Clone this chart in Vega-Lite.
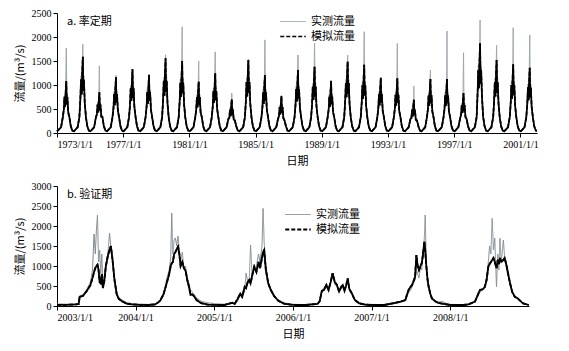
{
"$schema": "https://vega.github.io/schema/vega-lite/v6.json",
"background": "white",
"padding": {"left": 14, "top": 8, "right": 5, "bottom": 5},
"spacing": 15,
"config": {
 "view": {"stroke": null},
 "axis": {"grid": false, "domainColor": "black", "tickColor": "black", "labelFont": "Liberation Serif", "labelFontSize": 10, "labelColor": "black", "titleFont": "Noto Sans CJK SC", "titleFontSize": 11, "titleFontWeight": "normal", "titleColor": "black", "tickSize": 4},
 "legend": {"labelFont": "Noto Sans CJK SC", "labelFontSize": 11, "labelColor": "black", "symbolType": "stroke", "symbolStrokeWidth": 1.5, "symbolSize": 650, "clipHeight": 13, "rowPadding": 2, "labelOffset": 4},
 "title": {"font": "Noto Sans CJK SC", "fontSize": 11, "fontWeight": "normal", "color": "black"}
},
"datasets": {
"top": [
{"d":"1973-01-01","o":50,"s":35},{"d":"1973-04-01","o":150,"s":120},{"d":"1973-05-10","o":380,"s":330},{"d":"1973-06-01","o":540,"s":486},{"d":"1973-06-15","o":810,"s":756},{"d":"1973-07-01","o":594,"s":540},{"d":"1973-07-12","o":918,"s":864},{"d":"1973-07-25","o":1770,"s":1080},{"d":"1973-08-05","o":648,"s":594},{"d":"1973-08-18","o":810,"s":756},{"d":"1973-09-05","o":486,"s":432},{"d":"1973-10-01","o":380,"s":330},{"d":"1973-11-01","o":180,"s":140},{"d":"1973-12-05","o":70,"s":50},
{"d":"1974-01-10","o":50,"s":35},{"d":"1974-04-01","o":150,"s":120},{"d":"1974-05-10","o":380,"s":330},{"d":"1974-06-01","o":795,"s":716},{"d":"1974-06-15","o":1193,"s":1113},{"d":"1974-07-01","o":875,"s":795},{"d":"1974-07-12","o":1352,"s":1272},{"d":"1974-07-25","o":1850,"s":1590},{"d":"1974-08-05","o":954,"s":875},{"d":"1974-08-18","o":1193,"s":1113},{"d":"1974-09-05","o":716,"s":636},{"d":"1974-10-01","o":380,"s":330},{"d":"1974-11-01","o":180,"s":140},{"d":"1974-12-05","o":70,"s":50},
{"d":"1975-01-10","o":50,"s":35},{"d":"1975-04-01","o":150,"s":120},{"d":"1975-05-10","o":380,"s":330},{"d":"1975-06-01","o":425,"s":383},{"d":"1975-06-15","o":638,"s":595},{"d":"1975-07-01","o":468,"s":425},{"d":"1975-07-12","o":723,"s":680},{"d":"1975-07-25","o":1400,"s":850},{"d":"1975-08-05","o":510,"s":468},{"d":"1975-08-18","o":638,"s":595},{"d":"1975-09-05","o":383,"s":340},{"d":"1975-10-01","o":380,"s":330},{"d":"1975-11-01","o":180,"s":140},{"d":"1975-12-05","o":70,"s":50},
{"d":"1976-01-10","o":50,"s":35},{"d":"1976-04-01","o":150,"s":120},{"d":"1976-05-10","o":380,"s":330},{"d":"1976-06-01","o":580,"s":522},{"d":"1976-06-15","o":870,"s":812},{"d":"1976-07-01","o":638,"s":580},{"d":"1976-07-12","o":986,"s":928},{"d":"1976-07-25","o":1200,"s":1160},{"d":"1976-08-05","o":696,"s":638},{"d":"1976-08-18","o":870,"s":812},{"d":"1976-09-05","o":522,"s":464},{"d":"1976-10-01","o":380,"s":330},{"d":"1976-11-01","o":180,"s":140},{"d":"1976-12-05","o":70,"s":50},
{"d":"1977-01-10","o":50,"s":35},{"d":"1977-04-01","o":150,"s":120},{"d":"1977-05-10","o":380,"s":330},{"d":"1977-06-01","o":665,"s":599},{"d":"1977-06-15","o":998,"s":931},{"d":"1977-07-01","o":732,"s":665},{"d":"1977-07-12","o":1131,"s":1064},{"d":"1977-07-25","o":1300,"s":1330},{"d":"1977-08-05","o":798,"s":732},{"d":"1977-08-18","o":998,"s":931},{"d":"1977-09-05","o":599,"s":532},{"d":"1977-10-01","o":380,"s":330},{"d":"1977-11-01","o":180,"s":140},{"d":"1977-12-05","o":70,"s":50},
{"d":"1978-01-10","o":50,"s":35},{"d":"1978-04-01","o":150,"s":120},{"d":"1978-05-10","o":380,"s":330},{"d":"1978-06-01","o":605,"s":545},{"d":"1978-06-15","o":908,"s":847},{"d":"1978-07-01","o":666,"s":605},{"d":"1978-07-12","o":1029,"s":968},{"d":"1978-07-25","o":1230,"s":1210},{"d":"1978-08-05","o":726,"s":666},{"d":"1978-08-18","o":908,"s":847},{"d":"1978-09-05","o":545,"s":484},{"d":"1978-10-01","o":380,"s":330},{"d":"1978-11-01","o":180,"s":140},{"d":"1978-12-05","o":70,"s":50},
{"d":"1979-01-10","o":50,"s":35},{"d":"1979-04-01","o":150,"s":120},{"d":"1979-05-10","o":380,"s":330},{"d":"1979-06-01","o":778,"s":700},{"d":"1979-06-15","o":1166,"s":1089},{"d":"1979-07-01","o":855,"s":778},{"d":"1979-07-12","o":1322,"s":1244},{"d":"1979-07-25","o":1630,"s":1555},{"d":"1979-08-05","o":933,"s":855},{"d":"1979-08-18","o":1166,"s":1089},{"d":"1979-09-05","o":700,"s":622},{"d":"1979-10-01","o":380,"s":330},{"d":"1979-11-01","o":180,"s":140},{"d":"1979-12-05","o":70,"s":50},
{"d":"1980-01-10","o":50,"s":35},{"d":"1980-04-01","o":150,"s":120},{"d":"1980-05-10","o":380,"s":330},{"d":"1980-06-01","o":750,"s":675},{"d":"1980-06-15","o":1125,"s":1050},{"d":"1980-07-01","o":825,"s":750},{"d":"1980-07-12","o":1275,"s":1200},{"d":"1980-07-25","o":2210,"s":1500},{"d":"1980-08-05","o":900,"s":825},{"d":"1980-08-18","o":1125,"s":1050},{"d":"1980-09-05","o":675,"s":600},{"d":"1980-10-01","o":380,"s":330},{"d":"1980-11-01","o":180,"s":140},{"d":"1980-12-05","o":70,"s":50},
{"d":"1981-01-10","o":50,"s":35},{"d":"1981-04-01","o":150,"s":120},{"d":"1981-05-10","o":380,"s":330},{"d":"1981-06-01","o":535,"s":482},{"d":"1981-06-15","o":803,"s":749},{"d":"1981-07-01","o":589,"s":535},{"d":"1981-07-12","o":910,"s":856},{"d":"1981-07-25","o":1500,"s":1070},{"d":"1981-08-05","o":642,"s":589},{"d":"1981-08-18","o":803,"s":749},{"d":"1981-09-05","o":482,"s":428},{"d":"1981-10-01","o":380,"s":330},{"d":"1981-11-01","o":180,"s":140},{"d":"1981-12-05","o":70,"s":50},
{"d":"1982-01-10","o":50,"s":35},{"d":"1982-04-01","o":150,"s":120},{"d":"1982-05-10","o":380,"s":330},{"d":"1982-06-01","o":623,"s":560},{"d":"1982-06-15","o":934,"s":872},{"d":"1982-07-01","o":685,"s":623},{"d":"1982-07-12","o":1058,"s":996},{"d":"1982-07-25","o":1690,"s":1245},{"d":"1982-08-05","o":747,"s":685},{"d":"1982-08-18","o":934,"s":872},{"d":"1982-09-05","o":560,"s":498},{"d":"1982-10-01","o":380,"s":330},{"d":"1982-11-01","o":180,"s":140},{"d":"1982-12-05","o":70,"s":50},
{"d":"1983-01-10","o":50,"s":35},{"d":"1983-04-01","o":150,"s":120},{"d":"1983-05-10","o":330,"s":290},{"d":"1983-06-01","o":350,"s":315},{"d":"1983-06-15","o":525,"s":490},{"d":"1983-07-01","o":385,"s":350},{"d":"1983-07-12","o":595,"s":560},{"d":"1983-07-25","o":830,"s":700},{"d":"1983-08-05","o":420,"s":385},{"d":"1983-08-18","o":525,"s":490},{"d":"1983-09-05","o":315,"s":280},{"d":"1983-10-01","o":300,"s":260},{"d":"1983-11-01","o":180,"s":140},{"d":"1983-12-05","o":70,"s":50},
{"d":"1984-01-10","o":50,"s":35},{"d":"1984-04-01","o":150,"s":120},{"d":"1984-05-10","o":380,"s":330},{"d":"1984-06-01","o":760,"s":684},{"d":"1984-06-15","o":1140,"s":1064},{"d":"1984-07-01","o":836,"s":760},{"d":"1984-07-12","o":1292,"s":1216},{"d":"1984-07-25","o":1540,"s":1520},{"d":"1984-08-05","o":912,"s":836},{"d":"1984-08-18","o":1140,"s":1064},{"d":"1984-09-05","o":684,"s":608},{"d":"1984-10-01","o":380,"s":330},{"d":"1984-11-01","o":180,"s":140},{"d":"1984-12-05","o":70,"s":50},
{"d":"1985-01-10","o":50,"s":35},{"d":"1985-04-01","o":150,"s":120},{"d":"1985-05-10","o":380,"s":330},{"d":"1985-06-01","o":605,"s":545},{"d":"1985-06-15","o":908,"s":847},{"d":"1985-07-01","o":666,"s":605},{"d":"1985-07-12","o":1029,"s":968},{"d":"1985-07-25","o":1940,"s":1210},{"d":"1985-08-05","o":726,"s":666},{"d":"1985-08-18","o":908,"s":847},{"d":"1985-09-05","o":545,"s":484},{"d":"1985-10-01","o":380,"s":330},{"d":"1985-11-01","o":180,"s":140},{"d":"1985-12-05","o":70,"s":50},
{"d":"1986-01-10","o":50,"s":35},{"d":"1986-04-01","o":150,"s":120},{"d":"1986-05-10","o":330,"s":290},{"d":"1986-06-01","o":385,"s":347},{"d":"1986-06-15","o":578,"s":539},{"d":"1986-07-01","o":424,"s":385},{"d":"1986-07-12","o":655,"s":616},{"d":"1986-07-25","o":790,"s":770},{"d":"1986-08-05","o":462,"s":424},{"d":"1986-08-18","o":578,"s":539},{"d":"1986-09-05","o":347,"s":308},{"d":"1986-10-01","o":300,"s":260},{"d":"1986-11-01","o":180,"s":140},{"d":"1986-12-05","o":70,"s":50},
{"d":"1987-01-10","o":50,"s":35},{"d":"1987-04-01","o":150,"s":120},{"d":"1987-05-10","o":380,"s":330},{"d":"1987-06-01","o":655,"s":590},{"d":"1987-06-15","o":983,"s":917},{"d":"1987-07-01","o":721,"s":655},{"d":"1987-07-12","o":1114,"s":1048},{"d":"1987-07-25","o":1625,"s":1310},{"d":"1987-08-05","o":786,"s":721},{"d":"1987-08-18","o":983,"s":917},{"d":"1987-09-05","o":590,"s":524},{"d":"1987-10-01","o":380,"s":330},{"d":"1987-11-01","o":180,"s":140},{"d":"1987-12-05","o":70,"s":50},
{"d":"1988-01-10","o":50,"s":35},{"d":"1988-04-01","o":150,"s":120},{"d":"1988-05-10","o":380,"s":330},{"d":"1988-06-01","o":690,"s":621},{"d":"1988-06-15","o":1035,"s":966},{"d":"1988-07-01","o":759,"s":690},{"d":"1988-07-12","o":1173,"s":1104},{"d":"1988-07-25","o":1870,"s":1380},{"d":"1988-08-05","o":828,"s":759},{"d":"1988-08-18","o":1035,"s":966},{"d":"1988-09-05","o":621,"s":552},{"d":"1988-10-01","o":380,"s":330},{"d":"1988-11-01","o":180,"s":140},{"d":"1988-12-05","o":70,"s":50},
{"d":"1989-01-10","o":50,"s":35},{"d":"1989-04-01","o":150,"s":120},{"d":"1989-05-10","o":380,"s":330},{"d":"1989-06-01","o":543,"s":488},{"d":"1989-06-15","o":814,"s":760},{"d":"1989-07-01","o":597,"s":543},{"d":"1989-07-12","o":922,"s":868},{"d":"1989-07-25","o":1100,"s":1085},{"d":"1989-08-05","o":651,"s":597},{"d":"1989-08-18","o":814,"s":760},{"d":"1989-09-05","o":488,"s":434},{"d":"1989-10-01","o":380,"s":330},{"d":"1989-11-01","o":180,"s":140},{"d":"1989-12-05","o":70,"s":50},
{"d":"1990-01-10","o":50,"s":35},{"d":"1990-04-01","o":150,"s":120},{"d":"1990-05-10","o":380,"s":330},{"d":"1990-06-01","o":745,"s":671},{"d":"1990-06-15","o":1118,"s":1043},{"d":"1990-07-01","o":820,"s":745},{"d":"1990-07-12","o":1267,"s":1192},{"d":"1990-07-25","o":1625,"s":1490},{"d":"1990-08-05","o":894,"s":820},{"d":"1990-08-18","o":1118,"s":1043},{"d":"1990-09-05","o":671,"s":596},{"d":"1990-10-01","o":380,"s":330},{"d":"1990-11-01","o":180,"s":140},{"d":"1990-12-05","o":70,"s":50},
{"d":"1991-01-10","o":50,"s":35},{"d":"1991-04-01","o":150,"s":120},{"d":"1991-05-10","o":380,"s":330},{"d":"1991-06-01","o":710,"s":639},{"d":"1991-06-15","o":1065,"s":994},{"d":"1991-07-01","o":781,"s":710},{"d":"1991-07-12","o":1207,"s":1136},{"d":"1991-07-25","o":2110,"s":1420},{"d":"1991-08-05","o":852,"s":781},{"d":"1991-08-18","o":1065,"s":994},{"d":"1991-09-05","o":639,"s":568},{"d":"1991-10-01","o":380,"s":330},{"d":"1991-11-01","o":180,"s":140},{"d":"1991-12-05","o":70,"s":50},
{"d":"1992-01-10","o":50,"s":35},{"d":"1992-04-01","o":150,"s":120},{"d":"1992-05-10","o":380,"s":330},{"d":"1992-06-01","o":575,"s":518},{"d":"1992-06-15","o":863,"s":805},{"d":"1992-07-01","o":633,"s":575},{"d":"1992-07-12","o":978,"s":920},{"d":"1992-07-25","o":1160,"s":1150},{"d":"1992-08-05","o":690,"s":633},{"d":"1992-08-18","o":863,"s":805},{"d":"1992-09-05","o":518,"s":460},{"d":"1992-10-01","o":380,"s":330},{"d":"1992-11-01","o":180,"s":140},{"d":"1992-12-05","o":70,"s":50},
{"d":"1993-01-10","o":50,"s":35},{"d":"1993-04-01","o":150,"s":120},{"d":"1993-05-10","o":380,"s":330},{"d":"1993-06-01","o":570,"s":513},{"d":"1993-06-15","o":855,"s":798},{"d":"1993-07-01","o":627,"s":570},{"d":"1993-07-12","o":969,"s":912},{"d":"1993-07-25","o":1870,"s":1140},{"d":"1993-08-05","o":684,"s":627},{"d":"1993-08-18","o":855,"s":798},{"d":"1993-09-05","o":513,"s":456},{"d":"1993-10-01","o":380,"s":330},{"d":"1993-11-01","o":180,"s":140},{"d":"1993-12-05","o":70,"s":50},
{"d":"1994-01-10","o":50,"s":35},{"d":"1994-04-01","o":150,"s":120},{"d":"1994-05-10","o":330,"s":290},{"d":"1994-06-01","o":345,"s":311},{"d":"1994-06-15","o":518,"s":483},{"d":"1994-07-01","o":380,"s":345},{"d":"1994-07-12","o":587,"s":552},{"d":"1994-07-25","o":980,"s":690},{"d":"1994-08-05","o":414,"s":380},{"d":"1994-08-18","o":518,"s":483},{"d":"1994-09-05","o":311,"s":276},{"d":"1994-10-01","o":300,"s":260},{"d":"1994-11-01","o":180,"s":140},{"d":"1994-12-05","o":70,"s":50},
{"d":"1995-01-10","o":50,"s":35},{"d":"1995-04-01","o":150,"s":120},{"d":"1995-05-10","o":380,"s":330},{"d":"1995-06-01","o":563,"s":506},{"d":"1995-06-15","o":844,"s":788},{"d":"1995-07-01","o":619,"s":563},{"d":"1995-07-12","o":956,"s":900},{"d":"1995-07-25","o":1310,"s":1125},{"d":"1995-08-05","o":675,"s":619},{"d":"1995-08-18","o":844,"s":788},{"d":"1995-09-05","o":506,"s":450},{"d":"1995-10-01","o":380,"s":330},{"d":"1995-11-01","o":180,"s":140},{"d":"1995-12-05","o":70,"s":50},
{"d":"1996-01-10","o":50,"s":35},{"d":"1996-04-01","o":150,"s":120},{"d":"1996-05-10","o":380,"s":330},{"d":"1996-06-01","o":563,"s":506},{"d":"1996-06-15","o":844,"s":788},{"d":"1996-07-01","o":619,"s":563},{"d":"1996-07-12","o":956,"s":900},{"d":"1996-07-25","o":2125,"s":1125},{"d":"1996-08-05","o":675,"s":619},{"d":"1996-08-18","o":844,"s":788},{"d":"1996-09-05","o":506,"s":450},{"d":"1996-10-01","o":380,"s":330},{"d":"1996-11-01","o":180,"s":140},{"d":"1996-12-05","o":70,"s":50},
{"d":"1997-01-10","o":50,"s":35},{"d":"1997-04-01","o":150,"s":120},{"d":"1997-05-10","o":350,"s":300},{"d":"1997-06-01","o":415,"s":374},{"d":"1997-06-15","o":623,"s":581},{"d":"1997-07-01","o":457,"s":415},{"d":"1997-07-12","o":706,"s":664},{"d":"1997-07-25","o":1670,"s":830},{"d":"1997-08-05","o":498,"s":457},{"d":"1997-08-18","o":623,"s":581},{"d":"1997-09-05","o":374,"s":332},{"d":"1997-10-01","o":330,"s":290},{"d":"1997-11-01","o":180,"s":140},{"d":"1997-12-05","o":70,"s":50},
{"d":"1998-01-10","o":50,"s":35},{"d":"1998-04-01","o":150,"s":120},{"d":"1998-05-10","o":380,"s":330},{"d":"1998-06-01","o":935,"s":842},{"d":"1998-06-15","o":1403,"s":1309},{"d":"1998-07-01","o":1029,"s":935},{"d":"1998-07-12","o":1590,"s":1496},{"d":"1998-07-25","o":2354,"s":1870},{"d":"1998-08-05","o":1122,"s":1029},{"d":"1998-08-18","o":1403,"s":1309},{"d":"1998-09-05","o":842,"s":748},{"d":"1998-10-01","o":380,"s":330},{"d":"1998-11-01","o":180,"s":140},{"d":"1998-12-05","o":70,"s":50},
{"d":"1999-01-10","o":50,"s":35},{"d":"1999-04-01","o":150,"s":120},{"d":"1999-05-10","o":380,"s":330},{"d":"1999-06-01","o":760,"s":684},{"d":"1999-06-15","o":1140,"s":1064},{"d":"1999-07-01","o":836,"s":760},{"d":"1999-07-12","o":1292,"s":1216},{"d":"1999-07-25","o":1830,"s":1520},{"d":"1999-08-05","o":912,"s":836},{"d":"1999-08-18","o":1140,"s":1064},{"d":"1999-09-05","o":684,"s":608},{"d":"1999-10-01","o":380,"s":330},{"d":"1999-11-01","o":180,"s":140},{"d":"1999-12-05","o":70,"s":50},
{"d":"2000-01-10","o":50,"s":35},{"d":"2000-04-01","o":150,"s":120},{"d":"2000-05-10","o":380,"s":330},{"d":"2000-06-01","o":715,"s":644},{"d":"2000-06-15","o":1073,"s":1001},{"d":"2000-07-01","o":787,"s":715},{"d":"2000-07-12","o":1216,"s":1144},{"d":"2000-07-25","o":2194,"s":1430},{"d":"2000-08-05","o":858,"s":787},{"d":"2000-08-18","o":1073,"s":1001},{"d":"2000-09-05","o":644,"s":572},{"d":"2000-10-01","o":380,"s":330},{"d":"2000-11-01","o":180,"s":140},{"d":"2000-12-05","o":70,"s":50},
{"d":"2001-01-10","o":50,"s":35},{"d":"2001-04-01","o":150,"s":120},{"d":"2001-05-10","o":380,"s":330},{"d":"2001-06-01","o":680,"s":612},{"d":"2001-06-15","o":1020,"s":952},{"d":"2001-07-01","o":748,"s":680},{"d":"2001-07-12","o":1156,"s":1088},{"d":"2001-07-25","o":2040,"s":1360},{"d":"2001-08-05","o":816,"s":748},{"d":"2001-08-18","o":1020,"s":952},{"d":"2001-09-05","o":612,"s":544},{"d":"2001-10-01","o":380,"s":330},{"d":"2001-11-01","o":180,"s":140},{"d":"2001-12-05","o":70,"s":50},{"d":"2001-12-31","o":60,"s":45}
],
"bot": [
{"d":"2003-01-01","o":50,"s":30},{"d":"2003-02-15","o":45,"s":30},{"d":"2003-04-01","o":50,"s":40},{"d":"2003-04-12","o":60,"s":50},{"d":"2003-04-16","o":250,"s":230},{"d":"2003-05-01","o":280,"s":250},{"d":"2003-05-20","o":420,"s":380},{"d":"2003-06-05","o":600,"s":520},{"d":"2003-06-15","o":900,"s":700},{"d":"2003-06-22","o":1800,"s":850},{"d":"2003-06-28","o":1300,"s":950},{"d":"2003-07-03","o":1900,"s":1000},{"d":"2003-07-08","o":2270,"s":1030},{"d":"2003-07-13","o":1100,"s":900},{"d":"2003-07-18","o":1400,"s":600},{"d":"2003-07-23","o":800,"s":570},{"d":"2003-07-28","o":1300,"s":800},{"d":"2003-08-02","o":600,"s":450},{"d":"2003-08-08","o":700,"s":600},{"d":"2003-08-16","o":1000,"s":1000},{"d":"2003-08-25","o":1300,"s":1250},{"d":"2003-09-02","o":1820,"s":1400},{"d":"2003-09-08","o":1500,"s":1500},{"d":"2003-09-15","o":1200,"s":1200},{"d":"2003-09-25","o":700,"s":650},{"d":"2003-10-05","o":350,"s":300},{"d":"2003-10-15","o":200,"s":180},{"d":"2003-11-01","o":150,"s":110},{"d":"2003-11-20","o":90,"s":60},{"d":"2003-12-15","o":60,"s":40},
{"d":"2004-01-15","o":50,"s":30},{"d":"2004-03-01","o":40,"s":25},{"d":"2004-04-01","o":50,"s":40},{"d":"2004-04-15","o":110,"s":90},{"d":"2004-04-25","o":150,"s":140},{"d":"2004-05-10","o":250,"s":300},{"d":"2004-05-25","o":700,"s":580},{"d":"2004-06-05","o":900,"s":800},{"d":"2004-06-12","o":1200,"s":1000},{"d":"2004-06-17","o":2320,"s":1070},{"d":"2004-06-22","o":1300,"s":1100},{"d":"2004-06-28","o":1650,"s":1300},{"d":"2004-07-04","o":1700,"s":1350},{"d":"2004-07-10","o":1500,"s":1420},{"d":"2004-07-16","o":1750,"s":1480},{"d":"2004-07-22","o":1400,"s":1300},{"d":"2004-07-28","o":1100,"s":1000},{"d":"2004-08-05","o":1350,"s":1100},{"d":"2004-08-12","o":950,"s":950},{"d":"2004-08-20","o":1000,"s":880},{"d":"2004-08-28","o":700,"s":650},{"d":"2004-09-05","o":550,"s":480},{"d":"2004-09-12","o":400,"s":280},{"d":"2004-09-20","o":350,"s":290},{"d":"2004-09-28","o":300,"s":250},{"d":"2004-10-10","o":200,"s":150},{"d":"2004-11-01","o":120,"s":70},{"d":"2004-12-01","o":80,"s":35},
{"d":"2005-01-01","o":60,"s":30},{"d":"2005-02-15","o":45,"s":25},{"d":"2005-03-25","o":70,"s":80},{"d":"2005-04-05","o":60,"s":50},{"d":"2005-04-20","o":120,"s":190},{"d":"2005-05-01","o":280,"s":310},{"d":"2005-05-10","o":200,"s":230},{"d":"2005-05-22","o":400,"s":480},{"d":"2005-05-28","o":820,"s":450},{"d":"2005-06-05","o":600,"s":600},{"d":"2005-06-12","o":700,"s":650},{"d":"2005-06-18","o":1525,"s":565},{"d":"2005-06-25","o":800,"s":750},{"d":"2005-07-05","o":950,"s":980},{"d":"2005-07-15","o":1000,"s":850},{"d":"2005-07-25","o":1300,"s":1100},{"d":"2005-08-01","o":1100,"s":950},{"d":"2005-08-10","o":1500,"s":1200},{"d":"2005-08-15","o":2440,"s":1350},{"d":"2005-08-20","o":1600,"s":1400},{"d":"2005-08-28","o":1000,"s":900},{"d":"2005-09-08","o":600,"s":565},{"d":"2005-09-20","o":420,"s":400},{"d":"2005-10-05","o":280,"s":250},{"d":"2005-10-25","o":150,"s":130},{"d":"2005-11-20","o":80,"s":60},{"d":"2005-12-20","o":50,"s":35},
{"d":"2006-01-15","o":40,"s":25},{"d":"2006-03-01","o":35,"s":25},{"d":"2006-04-25","o":60,"s":50},{"d":"2006-05-05","o":150,"s":120},{"d":"2006-05-15","o":400,"s":380},{"d":"2006-05-25","o":450,"s":400},{"d":"2006-06-05","o":550,"s":525},{"d":"2006-06-15","o":420,"s":400},{"d":"2006-06-25","o":600,"s":600},{"d":"2006-07-04","o":780,"s":820},{"d":"2006-07-14","o":550,"s":600},{"d":"2006-07-24","o":480,"s":525},{"d":"2006-08-03","o":350,"s":360},{"d":"2006-08-13","o":450,"s":480},{"d":"2006-08-20","o":520,"s":525},{"d":"2006-08-28","o":380,"s":380},{"d":"2006-09-05","o":500,"s":520},{"d":"2006-09-12","o":650,"s":690},{"d":"2006-09-20","o":400,"s":420},{"d":"2006-10-01","o":300,"s":320},{"d":"2006-10-15","o":170,"s":150},{"d":"2006-11-05","o":90,"s":65},{"d":"2006-12-01","o":50,"s":35},
{"d":"2007-01-01","o":40,"s":25},{"d":"2007-03-01","o":35,"s":25},{"d":"2007-04-20","o":60,"s":80},{"d":"2007-05-15","o":90,"s":110},{"d":"2007-06-07","o":130,"s":150},{"d":"2007-06-15","o":250,"s":300},{"d":"2007-06-22","o":330,"s":400},{"d":"2007-07-01","o":400,"s":480},{"d":"2007-07-08","o":480,"s":525},{"d":"2007-07-15","o":600,"s":620},{"d":"2007-07-22","o":650,"s":730},{"d":"2007-07-28","o":900,"s":1275},{"d":"2007-08-03","o":800,"s":1000},{"d":"2007-08-09","o":700,"s":900},{"d":"2007-08-16","o":1000,"s":1000},{"d":"2007-08-22","o":900,"s":1070},{"d":"2007-08-28","o":1300,"s":1300},{"d":"2007-09-03","o":1700,"s":1610},{"d":"2007-09-07","o":2275,"s":1400},{"d":"2007-09-12","o":1100,"s":1000},{"d":"2007-09-18","o":700,"s":650},{"d":"2007-09-23","o":500,"s":480},{"d":"2007-10-01","o":300,"s":300},{"d":"2007-10-08","o":200,"s":190},{"d":"2007-10-25","o":130,"s":110},{"d":"2007-11-06","o":100,"s":80},{"d":"2007-11-25","o":120,"s":60},{"d":"2007-12-15","o":60,"s":40},
{"d":"2008-01-01","o":40,"s":25},{"d":"2008-03-01","o":35,"s":25},{"d":"2008-03-26","o":50,"s":40},{"d":"2008-04-25","o":100,"s":110},{"d":"2008-05-10","o":250,"s":300},{"d":"2008-05-18","o":350,"s":400},{"d":"2008-06-01","o":400,"s":420},{"d":"2008-06-10","o":500,"s":480},{"d":"2008-06-18","o":700,"s":650},{"d":"2008-06-26","o":1100,"s":980},{"d":"2008-07-02","o":1500,"s":1050},{"d":"2008-07-08","o":1300,"s":1100},{"d":"2008-07-14","o":2190,"s":1150},{"d":"2008-07-20","o":1400,"s":1200},{"d":"2008-07-26","o":1700,"s":1100},{"d":"2008-08-03","o":480,"s":950},{"d":"2008-08-09","o":1300,"s":1150},{"d":"2008-08-14","o":900,"s":1050},{"d":"2008-08-19","o":1690,"s":1200},{"d":"2008-08-25","o":1100,"s":1100},{"d":"2008-09-04","o":1650,"s":1150},{"d":"2008-09-10","o":1200,"s":1200},{"d":"2008-09-20","o":900,"s":980},{"d":"2008-09-28","o":700,"s":750},{"d":"2008-10-05","o":550,"s":570},{"d":"2008-10-15","o":350,"s":350},{"d":"2008-10-27","o":230,"s":230},{"d":"2008-11-10","o":200,"s":190},{"d":"2008-11-25","o":120,"s":110},{"d":"2008-12-05","o":70,"s":65},{"d":"2008-12-31","o":30,"s":25}
]
},
"vconcat": [
 {
  "width": 480, "height": 120,
  "data": {"name": "top"},
  "title": {"text": "a. 率定期", "anchor": "start", "frame": "group", "dx": 10, "dy": 19, "offset": 0},
  "transform": [{"fold": ["o", "s"], "as": ["k", "v"]}],
  "encoding": {
   "x": {"field": "d", "type": "temporal", "title": "日期",
     "scale": {"type": "utc", "domain": [{"year": 1973, "month": 1, "date": 1, "utc": true}, {"year": 2002, "month": 1, "date": 1, "utc": true}], "nice": false},
     "axis": {"format": "%Y/%-m/%-d", "labelAngle": 0, "titlePadding": 6,
       "values": [{"year": 1973, "month": 1, "date": 1, "utc": true}, {"year": 1977, "month": 1, "date": 1, "utc": true}, {"year": 1981, "month": 1, "date": 1, "utc": true}, {"year": 1985, "month": 1, "date": 1, "utc": true}, {"year": 1989, "month": 1, "date": 1, "utc": true}, {"year": 1993, "month": 1, "date": 1, "utc": true}, {"year": 1997, "month": 1, "date": 1, "utc": true}, {"year": 2001, "month": 1, "date": 1, "utc": true}]}},
   "y": {"field": "v", "type": "quantitative", "title": "流量/(m³/s)",
     "scale": {"domain": [0, 2500], "nice": false},
     "axis": {"values": [0, 500, 1000, 1500, 2000, 2500], "format": "d", "titlePadding": 6}}
  },
  "layer": [
   {"mark": {"type": "line"},
    "encoding": {
     "color": {"field": "k", "type": "nominal", "title": null, "scale": {"domain": ["o", "s"], "range": ["#9aa3aa", "#000000"]},
       "legend": {"orient": "none", "legendX": 222, "legendY": 2, "labelExpr": "datum.value == 'o' ? '实测流量' : '模拟流量'"}},
     "strokeDash": {"field": "k", "type": "nominal", "title": null, "scale": {"domain": ["o", "s"], "range": [[1, 0], [4, 2]]},
       "legend": {"orient": "none", "legendX": 222, "legendY": 2, "labelExpr": "datum.value == 'o' ? '实测流量' : '模拟流量'"}},
     "strokeWidth": {"field": "k", "type": "nominal", "scale": {"domain": ["o", "s"], "range": [1, 1.7]}, "legend": null}
    }},
   {"transform": [{"filter": {"field": "k", "equal": "s"}}],
    "mark": {"type": "line", "color": "black", "strokeWidth": 1.7},
    "encoding": {}}
  ]
 },
 {
  "width": 472, "height": 120,
  "data": {"name": "bot"},
  "title": {"text": "b. 验证期", "anchor": "start", "frame": "group", "dx": 10, "dy": 19, "offset": 0},
  "transform": [{"fold": ["o", "s"], "as": ["k", "v"]}],
  "encoding": {
   "x": {"field": "d", "type": "temporal", "title": "日期",
     "scale": {"type": "utc", "domain": [{"year": 2003, "month": 1, "date": 1, "utc": true}, {"year": 2009, "month": 1, "date": 1, "utc": true}], "nice": false},
     "axis": {"format": "%Y/%-m/%-d", "labelAngle": 0, "titlePadding": 6,
       "values": [{"year": 2003, "month": 1, "date": 1, "utc": true}, {"year": 2004, "month": 1, "date": 1, "utc": true}, {"year": 2005, "month": 1, "date": 1, "utc": true}, {"year": 2006, "month": 1, "date": 1, "utc": true}, {"year": 2007, "month": 1, "date": 1, "utc": true}, {"year": 2008, "month": 1, "date": 1, "utc": true}]}},
   "y": {"field": "v", "type": "quantitative", "title": "流量/(m³/s)",
     "scale": {"domain": [0, 3000], "nice": false},
     "axis": {"values": [0, 500, 1000, 1500, 2000, 2500, 3000], "format": "d", "titlePadding": 6}}
  },
  "layer": [
   {"mark": {"type": "line"},
    "encoding": {
     "color": {"field": "k", "type": "nominal", "title": null, "scale": {"domain": ["o", "s"], "range": ["#7f8a92", "#000000"]},
       "legend": {"orient": "none", "legendX": 227, "legendY": 22, "labelExpr": "datum.value == 'o' ? '实测流量' : '模拟流量'"}},
     "strokeDash": {"field": "k", "type": "nominal", "title": null, "scale": {"domain": ["o", "s"], "range": [[1, 0], [4, 2]]},
       "legend": {"orient": "none", "legendX": 227, "legendY": 22, "labelExpr": "datum.value == 'o' ? '实测流量' : '模拟流量'"}},
     "strokeWidth": {"field": "k", "type": "nominal", "scale": {"domain": ["o", "s"], "range": [1, 1.8]}, "legend": null}
    }},
   {"transform": [{"filter": {"field": "k", "equal": "s"}}],
    "mark": {"type": "line", "color": "black", "strokeWidth": 1.8},
    "encoding": {}}
  ]
 }
],
"resolve": {"scale": {"x": "independent", "y": "independent", "color": "independent", "strokeDash": "independent", "strokeWidth": "independent"}, "legend": {"color": "independent", "strokeDash": "independent"}}
}
